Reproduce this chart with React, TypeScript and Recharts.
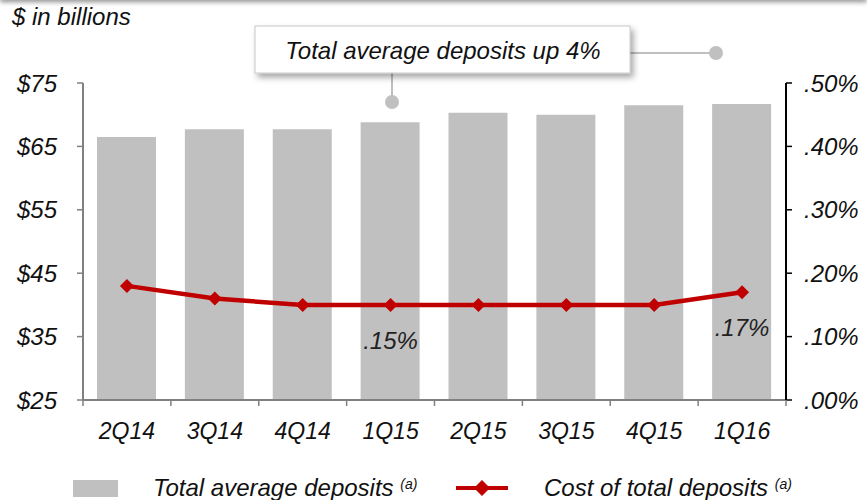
import React from "react";
import {
  ComposedChart,
  Bar,
  Line,
  XAxis,
  YAxis,
  LabelList,
} from "recharts";

const quarters = ["2Q14", "3Q14", "4Q14", "1Q15", "2Q15", "3Q15", "4Q15", "1Q16"];
const avgDeposits = [66.5, 67.7, 67.7, 68.8, 70.3, 70.0, 71.5, 71.7];
const depositCost = [0.18, 0.16, 0.15, 0.15, 0.15, 0.15, 0.15, 0.17];
const leftTicks = [25, 35, 45, 55, 65, 75];
const rightTicks = [0, 0.1, 0.2, 0.3, 0.4, 0.5];
const labelledPoints = ["1Q15", "1Q16"];

const data = quarters.map((q, i) => ({
  quarter: q,
  deposits: avgDeposits[i],
  cost: depositCost[i],
}));

const FONT = "'Liberation Sans', Arial, sans-serif";
const RED = "#c00000";
const GRAY_BAR = "#c0c0c0";
const STEP = 703 / quarters.length;

const pct = (v: number) => "." + Math.round(v * 100).toString().padStart(2, "0") + "%";

function XTick(props: any) {
  const { x, y, payload, index } = props;
  const left = x - STEP / 2;
  const right = x + STEP / 2;
  return (
    <g>
      <line x1={left} y1={y - 8} x2={left} y2={y - 2} stroke="#808080" strokeWidth={1.5} />
      {index === quarters.length - 1 && (
        <line x1={right} y1={y - 8} x2={right} y2={y - 2} stroke="#808080" strokeWidth={1.5} />
      )}
      <text x={x} y={y + 31} textAnchor="middle" fontSize={23} fontStyle="italic" fontFamily={FONT} fill="#111">
        {payload.value}
      </text>
    </g>
  );
}

function Diamond(props: any) {
  const { cx, cy } = props;
  if (cx == null || cy == null) return null;
  const r = 7;
  return (
    <polygon
      points={`${cx},${cy - r} ${cx + r},${cy} ${cx},${cy + r} ${cx - r},${cy}`}
      fill={RED}
    />
  );
}

function CostLabel(props: any) {
  const { x, y, value, index } = props;
  if (!labelledPoints.includes(quarters[index])) return null;
  return (
    <text x={x} y={y + 44} textAnchor="middle" fontSize={24} fontStyle="italic" fontFamily={FONT} fill="#222">
      {pct(value)}
    </text>
  );
}

function LegendRow() {
  const txt: React.CSSProperties = {
    position: "absolute",
    top: 474,
    fontSize: 24,
    fontStyle: "italic",
    fontFamily: FONT,
    color: "#111",
    whiteSpace: "nowrap",
    lineHeight: "28px",
  };
  const sup: React.CSSProperties = { fontSize: 14, verticalAlign: "top", position: "relative", top: -4 };
  return (
    <>
      <div style={{ position: "absolute", left: 73, top: 480, width: 45, height: 17, background: GRAY_BAR }} />
      <div style={{ ...txt, left: 153 }}>
        Total average deposits <span style={sup}>(a)</span>
      </div>
      <svg style={{ position: "absolute", left: 454, top: 478 }} width={56} height={20}>
        <line x1={2} y1={10} x2={54} y2={10} stroke={RED} strokeWidth={4} />
        <polygon points="28,2 36,10 28,18 20,10" fill={RED} />
      </svg>
      <div style={{ ...txt, left: 544 }}>
        Cost of total deposits <span style={sup}>(a)</span>
      </div>
    </>
  );
}

export default function App() {
  return (
    <div style={{ position: "absolute", left: 0, top: 0, width: 867, height: 500, background: "#fff", overflow: "hidden" }}>
      <div style={{ position: "absolute", left: 0, top: -6, width: 867, height: 6, boxShadow: "0 2px 5px rgba(0,0,0,0.45)" }} />
      <div style={{ position: "absolute", left: 12, top: 3, fontSize: 24, fontStyle: "italic", fontFamily: FONT, color: "#111", lineHeight: "28px" }}>
        $ in billions
      </div>
      <ComposedChart
        width={867}
        height={500}
        data={data}
        margin={{ top: 83, right: 0, bottom: 70, left: 0 }}
        barCategoryGap="33%"
      >
        <XAxis
          dataKey="quarter"
          height={30}
          axisLine={{ stroke: "#808080", strokeWidth: 2 }}
          tickLine={false}
          tick={<XTick />}
          interval={0}
        />
        <YAxis
          yAxisId="left"
          width={83}
          domain={[25, 75]}
          ticks={leftTicks}
          axisLine={{ stroke: "#808080", strokeWidth: 2 }}
          tickLine={{ stroke: "#808080", strokeWidth: 1.5 }}
          tickSize={6}
          tickMargin={20}
          tickFormatter={(v: number) => "$" + v}
          tick={{ fontSize: 24, fontStyle: "italic", fontFamily: FONT, fill: "#111" }}
        />
        <YAxis
          yAxisId="right"
          orientation="right"
          width={81}
          domain={[0, 0.5]}
          ticks={rightTicks}
          axisLine={{ stroke: "#000", strokeWidth: 2 }}
          tickLine={{ stroke: "#000", strokeWidth: 1.5 }}
          tickSize={6}
          tickMargin={12}
          tickFormatter={pct}
          tick={{ fontSize: 24, fontStyle: "italic", fontFamily: FONT, fill: "#111", textAnchor: "start" }}
        />
        <Bar yAxisId="left" dataKey="deposits" fill={GRAY_BAR} barSize={59} isAnimationActive={false} />
        <Line
          yAxisId="right"
          type="linear"
          dataKey="cost"
          stroke={RED}
          strokeWidth={4.5}
          dot={<Diamond />}
          activeDot={false}
          isAnimationActive={false}
        >
          <LabelList dataKey="cost" content={<CostLabel />} />
        </Line>
      </ComposedChart>
      {/* callout */}
      <svg style={{ position: "absolute", left: 0, top: 0 }} width={867} height={120}>
        <defs>
          <filter id="sh" x="-10%" y="-30%" width="120%" height="170%">
            <feDropShadow dx="3" dy="4" stdDeviation="3" floodColor="#000" floodOpacity="0.35" />
          </filter>
        </defs>
        <line x1={392} y1={73} x2={392} y2={102} stroke="#aaa" strokeWidth={1.5} />
        <line x1={630} y1={53} x2={716} y2={53} stroke="#aaa" strokeWidth={1.5} />
        <circle cx={392} cy={102} r={7} fill="#c0c0c0" />
        <circle cx={716} cy={53} r={7} fill="#c0c0c0" />
        <rect x={255} y={26} width={375} height={47} fill="#fff" stroke="#c8c8c8" filter="url(#sh)" />
        <text x={443} y={59} textAnchor="middle" fontSize={24} fontStyle="italic" fontFamily={FONT} fill="#111">
          Total average deposits up 4%
        </text>
      </svg>
      <LegendRow />
    </div>
  );
}
